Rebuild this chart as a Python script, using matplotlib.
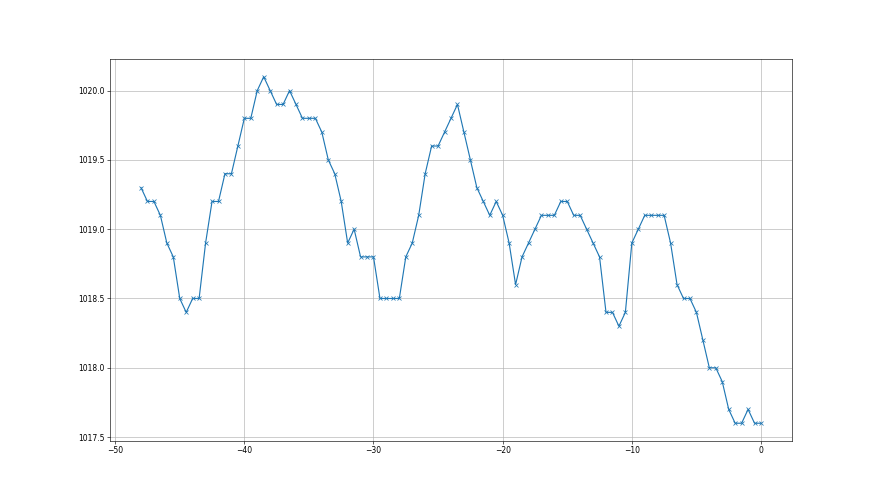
import numpy as np
import matplotlib
matplotlib.use("Agg")
import matplotlib.pyplot as plt

# === Data ===
hours = np.arange(-48, 0.5, 0.5)
pressure = [
    1019.3, 1019.2, 1019.2, 1019.1, 1018.9, 1018.8, 1018.5, 1018.4, 1018.5, 1018.5,
    1018.9, 1019.2, 1019.2, 1019.4, 1019.4, 1019.6, 1019.8, 1019.8, 1020.0, 1020.1,
    1020.0, 1019.9, 1019.9, 1020.0, 1019.9, 1019.8, 1019.8, 1019.8, 1019.7, 1019.5,
    1019.4, 1019.2, 1018.9, 1019.0, 1018.8, 1018.8, 1018.8, 1018.5, 1018.5, 1018.5,
    1018.5, 1018.8, 1018.9, 1019.1, 1019.4, 1019.6, 1019.6, 1019.7, 1019.8, 1019.9,
    1019.7, 1019.5, 1019.3, 1019.2, 1019.1, 1019.2, 1019.1, 1018.9, 1018.6, 1018.8,
    1018.9, 1019.0, 1019.1, 1019.1, 1019.1, 1019.2, 1019.2, 1019.1, 1019.1, 1019.0,
    1018.9, 1018.8, 1018.4, 1018.4, 1018.3, 1018.4, 1018.9, 1019.0, 1019.1, 1019.1,
    1019.1, 1019.1, 1018.9, 1018.6, 1018.5, 1018.5, 1018.4, 1018.2, 1018.0, 1018.0,
    1017.9, 1017.7, 1017.6, 1017.6, 1017.7, 1017.6, 1017.6,
]

# === Plot ===
fig = plt.figure(figsize=(16, 9), dpi=55)
plt.plot(hours, pressure, marker='x')
plt.grid(True)
plt.savefig("out.png", dpi=55)
